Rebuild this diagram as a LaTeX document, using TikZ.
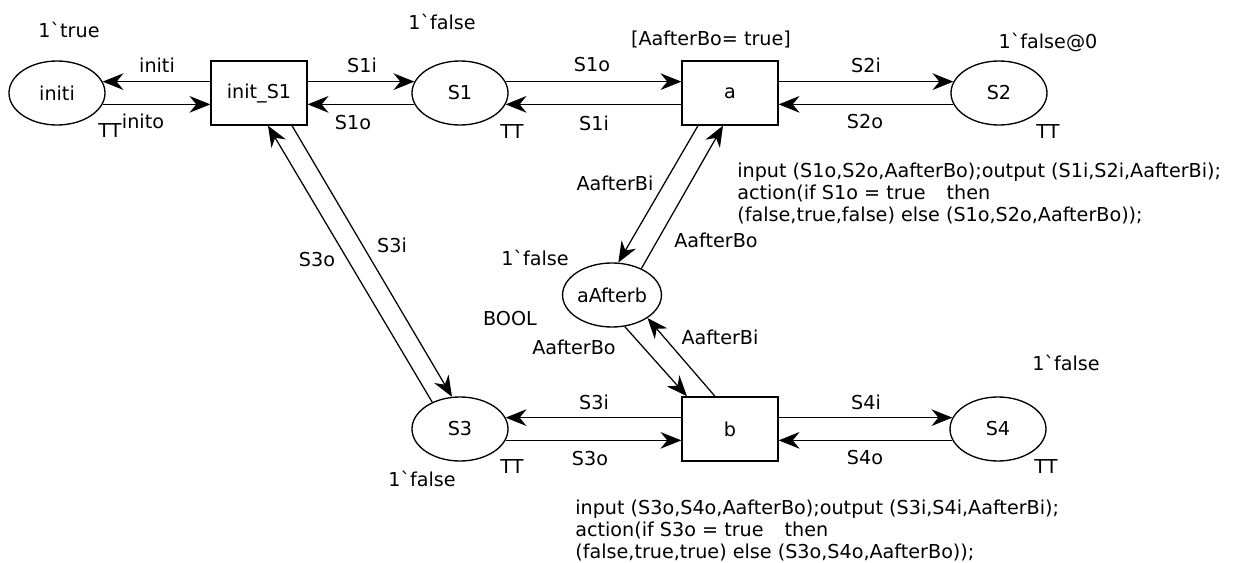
\documentclass[tikz,border=0pt]{standalone}
\usepackage{fontspec}
\setmainfont{DejaVu Sans}
\usetikzlibrary{arrows.meta,shapes.geometric,calc}

\newcommand{\tk}{\textasciigrave}

\begin{document}
\begin{tikzpicture}[
  x=.6pt,y=-.6pt,
  font=\fontsize{11.5}{13.2}\selectfont,
  place/.style={draw,ellipse,line width=.8pt,minimum width=57.6pt,
                minimum height=38.4pt,inner sep=0pt},
  trans/.style={draw,rectangle,line width=.8pt,minimum width=57.6pt,
                minimum height=38.4pt,inner sep=0pt},
  lbl/.style={inner sep=0pt},
  code/.style={inner sep=0pt,align=left,anchor=west},
  arc/.style={-{Stealth[length=12.5pt,width=10pt]},line width=.75pt}
]
\useasboundingbox (0,0) rectangle (1250,563);

% places and transitions
\node[place] (initi) at (57,93) {initi};
\node[trans] (initS1) at (259,93) {init\_S1};
\node[place] (S1) at (460,93) {S1};
\node[trans] (a) at (730,93) {a};
\node[place] (S2) at (999,93) {S2};
\node[place] (aAfterb) at (612,295) {aAfterb};
\node[place] (S3) at (460,429) {S3};
\node[trans] (b) at (730,429) {b};
\node[place] (S4) at (998,429) {S4};

% initial markings, colour sets, guards
\node[lbl] (mInit) at (69,30) {1\tk true};
\node[lbl] (tInit) at (110,131) {TT};
\node[lbl] (mS1) at (442,22) {1\tk false};
\node[lbl] (tS1) at (512,132) {TT};
\node[lbl] (gA) at (711,39) {[AafterBo= true]};
\node[lbl] (mS2) at (1048,43) {1\tk false@0};
\node[lbl] (tS2) at (1048,132) {TT};
\node[lbl] (mAB) at (535,258) {1\tk false};
\node[lbl] (tAB) at (510,319) {BOOL};
\node[lbl] (tS3) at (512,467) {TT};
\node[lbl] (mS3) at (422,479) {1\tk false};
\node[lbl] (mS4) at (1066,363) {1\tk false};
\node[lbl] (tS4) at (1046,467) {TT};

% code segments
\node[code] (codeA) at (737,193)
  {input (S1o,S2o,AafterBo);output (S1i,S2i,AafterBi);\\
   action(if S1o = true\hspace{1.1em}then\\
   (false,true,false) else (S1o,S2o,AafterBo));};
\node[code] (codeB) at (575,530)
  {input (S3o,S4o,AafterBo);output (S3i,S4i,AafterBi);\\
   action(if S3o = true\hspace{1.1em}then\\
   (false,true,true) else (S3o,S4o,AafterBo));};

% horizontal arcs
\draw[arc] (initS1.west |- initi.14) -- (initi.14);
\draw[arc] (initi.-14) -- (initi.-14 -| initS1.west);
\draw[arc] (initS1.east |- S1.166) -- (S1.166);
\draw[arc] (S1.194) -- (S1.194 -| initS1.east);
\draw[arc] (S1.14) -- (S1.14 -| a.west);
\draw[arc] (a.west |- S1.-14) -- (S1.-14);
\draw[arc] (a.east |- S2.166) -- (S2.166);
\draw[arc] (S2.194) -- (S2.194 -| a.east);
\draw[arc] (b.west |- S3.14) -- (S3.14);
\draw[arc] (S3.-14) -- (S3.-14 -| b.west);
\draw[arc] (b.east |- S4.166) -- (S4.166);
\draw[arc] (S4.194) -- (S4.194 -| b.east);

% slanted arcs
\draw[arc] (S3.136) -- ([xshift=5.4pt]initS1.south);
\draw[arc] ([xshift=19.8pt]initS1.south) -- (S3.104);
\draw[arc] ([xshift=-19.2pt]a.south) -- (aAfterb.79);
\draw[arc] (aAfterb.42) -- ([xshift=-4.2pt]a.south);
\draw[arc] (aAfterb.-68) -- ([xshift=-25.8pt]b.north);
\draw[arc] ([xshift=-9pt]b.north) -- (aAfterb.-33);

% arc inscriptions
\node[lbl] (eIniti) at (157,65) {initi};
\node[lbl] (eInito) at (143,121) {inito};
\node[lbl] (eS1iA) at (362,65) {S1i};
\node[lbl] (eS1oA) at (353,123) {S1o};
\node[lbl] (eS1oB) at (592,65) {S1o};
\node[lbl] (eS1iB) at (594,123) {S1i};
\node[lbl] (eS2i) at (866,65) {S2i};
\node[lbl] (eS2o) at (865,122) {S2o};
\node[lbl] (eS3oA) at (317,260) {S3o};
\node[lbl] (eS3iA) at (392,245) {S3i};
\node[lbl] (eABiA) at (615,183) {AafterBi};
\node[lbl] (eABoA) at (716,240) {AafterBo};
\node[lbl] (eABoB) at (574,347) {AafterBo};
\node[lbl] (eABiB) at (720,337) {AafterBi};
\node[lbl] (eS3iB) at (594,402) {S3i};
\node[lbl] (eS3oB) at (590,459) {S3o};
\node[lbl] (eS4i) at (866,402) {S4i};
\node[lbl] (eS4o) at (865,458) {S4o};
\end{tikzpicture}
\end{document}
